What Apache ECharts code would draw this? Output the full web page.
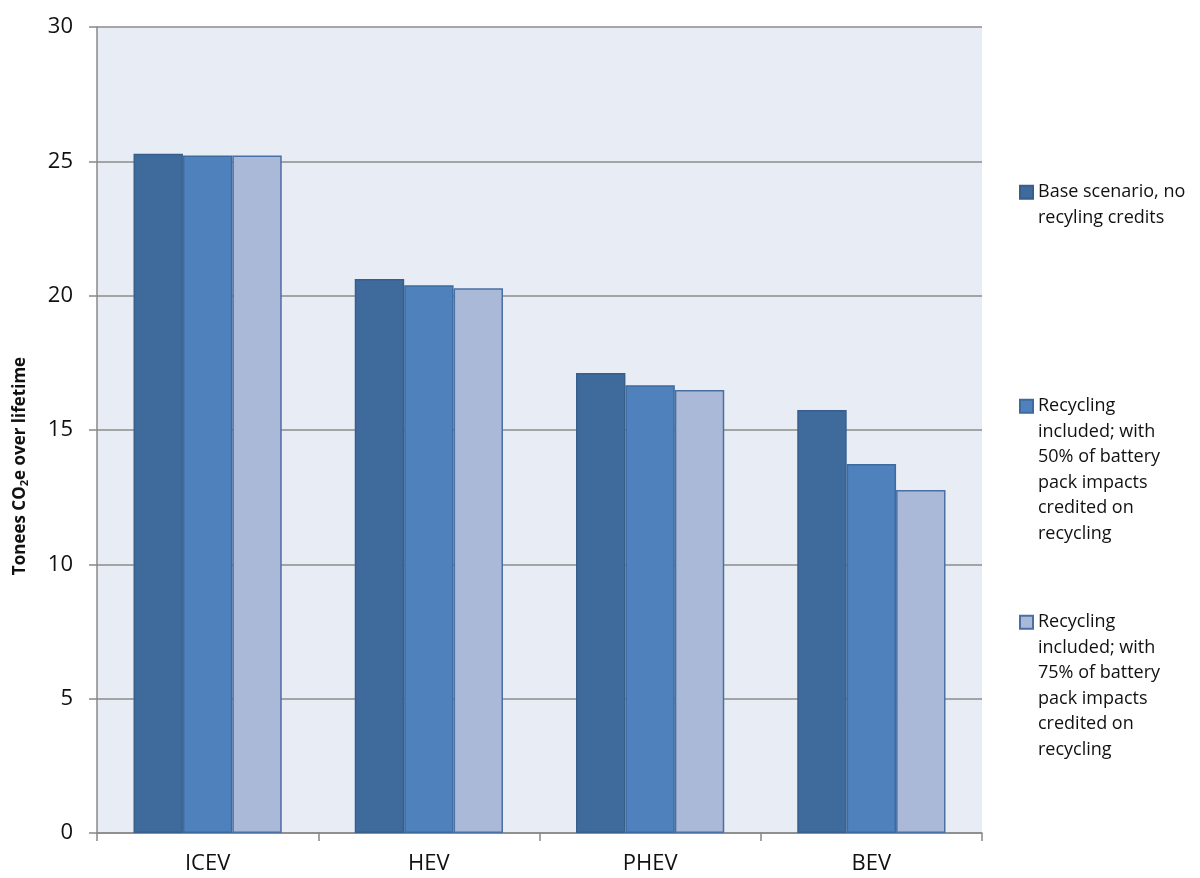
<!DOCTYPE html>
<html>
<head>
<meta charset="utf-8">
<script src="https://cdn.jsdelivr.net/npm/echarts@6/dist/echarts.min.js"></script>
<style>
  html, body { margin: 0; padding: 0; background: #fff; }
  #chart { width: 1200px; height: 878px; }
</style>
</head>
<body>
<div id="chart"></div>
<script>
// 车型
const categories = ['ICEV', 'HEV', 'PHEV', 'BEV']
// 图例名称（按原图换行）
const seriesNames = [
  'Base scenario, no\nrecyling credits',
  'Recycling\nincluded; with\n50% of battery\npack impacts\ncredited on\nrecycling',
  'Recycling\nincluded; with\n75% of battery\npack impacts\ncredited on\nrecycling',
]
// 各情景数值 (t CO2e)
const baseValues = [25.28, 20.62, 17.12, 15.74]
const recycle50Values = [25.22, 20.39, 16.67, 13.73]
const recycle75Values = [25.22, 20.28, 16.49, 12.77]
const yTicks = [0, 5, 10, 15, 20, 25, 30]

const fontFamily = '"Open Sans", "Noto Sans", sans-serif'
const lineH = 25.5

const chartDom = document.getElementById('chart')
const chartInstance = echarts.init(chartDom)

// 图例文字默认居中于色块，前面补空行让第一行与色块对齐
function legendFor(name, top) {
  return {
    orient: 'vertical',
    left: 1019,
    top: top,
    padding: 0,
    icon: 'rect',
    itemWidth: 13,
    itemHeight: 13,
    data: [name],
    selectedMode: false,
    formatter: (n) => '\n'.repeat(n.split('\n').length - 1) + n,
    textStyle: {
      fontFamily,
      fontSize: 18,
      color: '#111',
      lineHeight: lineH,
    },
  }
}

const barStyles = [
  { color: '#3F6A9C', borderColor: '#385E8C' },
  { color: '#4F81BD', borderColor: '#3E6B9F' },
  { color: '#AAB9D8', borderColor: '#4A6FA5' },
]
const dataSets = [baseValues, recycle50Values, recycle75Values]

const chartOptions = {
  animation: false,
  backgroundColor: '#fff',
  grid: {
    left: 97,
    right: 218,
    top: 27,
    bottom: 45,
    outerBoundsMode: 'none',
    show: true,
    backgroundColor: '#E8ECF4',
    borderWidth: 0,
  },
  legend: [
    legendFor(seriesNames[0], 154),
    legendFor(seriesNames[1], 266),
    legendFor(seriesNames[2], 482),
  ],
  xAxis: {
    type: 'category',
    data: categories,
    axisLine: { lineStyle: { color: '#888', width: 1.5 } },
    axisTick: { show: true, length: 8, lineStyle: { color: '#888', width: 1.5 } },
    axisLabel: { fontFamily, fontSize: 22, color: '#111', margin: 20 },
  },
  yAxis: {
    type: 'value',
    min: yTicks[0],
    max: yTicks[yTicks.length - 1],
    interval: 5,
    name: 'Tonees CO{sub|2}e over lifetime',
    nameLocation: 'middle',
    nameRotate: 90,
    nameGap: 67,
    nameTextStyle: {
      fontFamily,
      fontSize: 17,
      fontWeight: 'bold',
      color: '#111',
      padding: [0, 72, 0, 0],
      rich: {
        sub: { fontFamily, fontSize: 11, fontWeight: 'bold', color: '#111', verticalAlign: 'bottom', padding: [9, 0, 0, 0] },
      },
    },
    axisLine: { show: true, lineStyle: { color: '#888', width: 1.5 } },
    axisTick: { show: true, length: 8, lineStyle: { color: '#888', width: 1.5 } },
    axisLabel: { fontFamily, fontSize: 22, color: '#111', margin: 24 },
    splitLine: { show: true, lineStyle: { color: '#8C8C8C', width: 1.5 } },
  },
  series: dataSets.map((d, i) => ({
    name: seriesNames[i],
    type: 'bar',
    data: d,
    barGap: '0%',
    barCategoryGap: '33%',
    itemStyle: {
      color: barStyles[i].color,
      borderColor: barStyles[i].borderColor,
      borderWidth: 1.5,
    },
  })),
}

chartInstance.setOption(chartOptions)
</script>
</body>
</html>
